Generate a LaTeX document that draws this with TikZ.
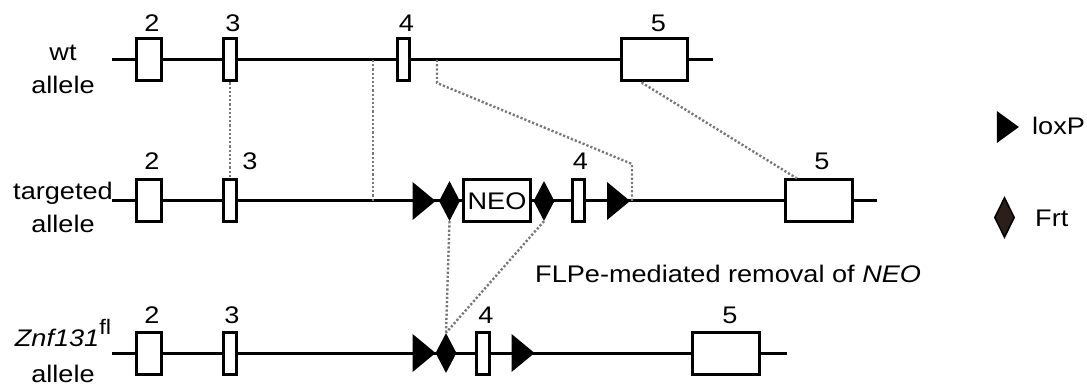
\documentclass[tikz,border=0pt]{standalone}
\usepackage{fontspec}
\setmainfont{Liberation Sans}[FakeStretch=1.13]
\usetikzlibrary{shapes.geometric}
\definecolor{DotGray}{RGB}{120,120,120}
\definecolor{FrtBrown}{RGB}{43,30,27}
\newcommand{\lblfont}{\fontsize{24}{33}\selectfont}

\begin{document}
\begin{tikzpicture}[
    x=1pt, y=-1pt,
    dna/.style={
        line width=3pt
    },
    exon/.style={
        draw,
        line width=3pt,
        fill=white,
        inner sep=0pt,
        minimum height=42pt,
        label distance=0pt
    },
    num/.style={
        font=\lblfont,
        inner sep=0pt,
        yshift=7pt
    },
    allele/.style={
        font=\lblfont,
        align=center,
        inner sep=0pt
    },
    loxp/.style={
        isosceles triangle,
        isosceles triangle stretches,
        fill=black,
        inner sep=0pt,
        minimum width=38pt,
        minimum height=23pt
    },
    frt/.style={
        diamond,
        fill=black,
        inner sep=0pt,
        minimum width=21pt,
        minimum height=40pt
    },
    homol/.style={
        draw=DotGray,
        line width=2.4pt,
        dash pattern=on 2.2pt off 2pt
    }
]
\useasboundingbox (0,0) rectangle (1087,390);

% Backbones
\coordinate (wtS) at (112,60);
\coordinate (wtE) at (713,60);
\coordinate (tgS) at (112,201);
\coordinate (tgE) at (877,201);
\coordinate (flS) at (112,353);
\coordinate (flE) at (787,353);
\draw[dna] (wtS) -- (wtE);
\draw[dna] (tgS) -- (tgE);
\draw[dna] (flS) -- (flE);

% wt allele
\node[allele] (wtlbl) at (63,69) {wt\\allele};
\node[exon, minimum width=25pt,
      label={[num,xshift=3pt,yshift=-1pt]above:2}] (ex2w) at (149,60) {};
\node[exon, minimum width=13pt,
      label={[num,xshift=3pt,yshift=-1pt]above:3}] (ex3w) at (230,60) {};
\node[exon, minimum width=12pt,
      label={[num,xshift=3pt,yshift=-1pt]above:4}] (ex4w) at (403.5,60) {};
\node[exon, minimum width=66pt,
      label={[num,xshift=4pt,yshift=-1pt]above:5}] (ex5w) at (654.5,60) {};

% targeted allele
\node[allele] (tglbl) at (63,207) {targeted\\allele};
\node[exon, minimum width=25pt,
      label={[num,xshift=3pt,yshift=2pt]above:2}] (ex2t) at (149,201) {};
\node[exon, minimum width=13pt,
      label={[num,xshift=20pt,yshift=2pt]above:3}] (ex3t) at (230,201) {};
\node[loxp] (lox1t) at (421.5,201) {};
\node[frt] (frt1t) at (449.5,201) {};
\node[exon, minimum width=67pt, font=\lblfont] (neo) at (497,201) {NEO};
\node[frt] (frt2t) at (544,201) {};
\node[exon, minimum width=12pt,
      label={[num,xshift=2pt,yshift=2pt]above:4}] (ex4t) at (578.5,201) {};
\node[loxp] (lox2t) at (616,201) {};
\node[exon, minimum width=67pt,
      label={[num,xshift=3pt,yshift=2pt]above:5}] (ex5t) at (819,201) {};

% floxed allele
\node[allele] (fllbl) at (63,351) {\textit{Znf131}\raisebox{12pt}{\fontsize{21}{21}\selectfont fl}\\[3pt]allele};
\node[exon, minimum width=25pt,
      label={[num,xshift=3pt]above:2}] (ex2f) at (149,353) {};
\node[exon, minimum width=13pt,
      label={[num,xshift=2pt]above:3}] (ex3f) at (230,353) {};
\node[loxp] (lox1f) at (421.5,353) {};
\node[frt] (frtf) at (446,353) {};
\node[exon, minimum width=13pt,
      label={[num,xshift=3pt]above:4}] (ex4f) at (483,353) {};
\node[loxp] (lox2f) at (520.5,353) {};
\node[exon, minimum width=67pt,
      label={[num,xshift=4pt]above:5}] (ex5f) at (726,353) {};

\node[num, anchor=base west, yshift=-7pt] (flpe) at (535,282) {FLPe-mediated removal of \textit{NEO}};

% Legend
\node[loxp, minimum width=32pt, minimum height=22pt] (loxkey) at (1005,127) {};
\node[num, anchor=base west, yshift=-7pt] (loxtxt) at (1032,135) {loxP};
\node[frt, fill=FrtBrown, draw=black, line width=1.5pt,
      minimum width=20pt, minimum height=40pt] (frtkey) at (1004.5,217.5) {};
\node[num, anchor=base west, yshift=-7pt] (frttxt) at (1035,227) {Frt};

% Homology lines
\coordinate (cutL1) at (373,60);
\coordinate (cutL2) at (373,201);
\coordinate (cutR1) at (437,60);
\coordinate (cutR2) at (632,201);
\draw[homol] (ex3w.south) -- (ex3t.north);
\draw[homol] (cutL1) -- (cutL2);
\draw[homol] (cutR1) -- ++(0,23) -- ([yshift=37pt]cutR2) -- (cutR2);
\draw[homol] ([xshift=-13pt]ex5w.south) -- ([xshift=-22pt]ex5t.north);
\draw[homol] (frt1t.south) -- (frtf.north);
\draw[homol] (frt2t.south) -- (frtf.north);

\end{tikzpicture}
\end{document}
